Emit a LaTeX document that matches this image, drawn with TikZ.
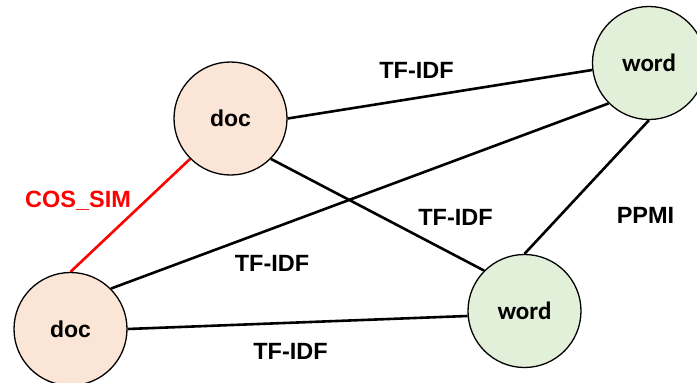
\documentclass[tikz,border=0pt]{standalone}
\usepackage{fontspec}
\setmainfont{Liberation Sans}
\newfontfamily\wordfont{Carlito}
\definecolor{docfill}{HTML}{FBE5D6}
\definecolor{wordfill}{HTML}{E2F0D9}
\pgfdeclarelayer{bg}
\pgfsetlayers{bg,main}
\begin{document}
\begin{tikzpicture}[x=1pt,y=-1pt,
  docnode/.style={circle,draw=black,line width=1.3pt,fill=docfill,minimum size=113pt,inner sep=0pt,font=\fontsize{23}{26}\selectfont\bfseries},
  wordnode/.style={circle,draw=black,line width=1.3pt,fill=wordfill,minimum size=113pt,inner sep=0pt,font=\wordfont\fontsize{25}{28}\selectfont\bfseries},
  edge/.style={line width=2.6pt,black},
  simedge/.style={line width=2.6pt,red},
  lbl/.style={anchor=base,inner sep=0pt,font=\fontsize{23.5}{26}\selectfont\bfseries}]
\useasboundingbox (0,0) rectangle (697,383);
\clip (0,0) rectangle (697,383);
\node[docnode] (doc1) at (230.5,118.5) {doc};
\node[docnode] (doc2) at (70.5,329) {doc};
\node[wordnode] (word1) at (649,63) {word};
\node[wordnode] (word2) at (524.5,311) {word};
\begin{pgfonlayer}{bg}
\draw[edge] (doc1.east) -- (word1.187);
\draw[edge] (doc1.south east) -- (word2.north west);
\draw[edge] (doc2.north east) -- (word1.south west);
\draw[edge] (doc2.east) -- (word2.185);
\draw[edge] (word1.south) -- (word2.north);
\draw[simedge] (doc1.south west) -- (doc2.north);
\end{pgfonlayer}
\node[lbl] (l1) at (416.5,78) {TF-IDF};
\node[lbl] (l2) at (455.5,225) {TF-IDF};
\node[lbl] (l3) at (272,271) {TF-IDF};
\node[lbl] (l4) at (290.5,359) {TF-IDF};
\node[lbl] (l5) at (645.5,223) {PPMI};
\node[lbl,text=red] (l6) at (78,207) {COS\_SIM};
\end{tikzpicture}
\end{document}
